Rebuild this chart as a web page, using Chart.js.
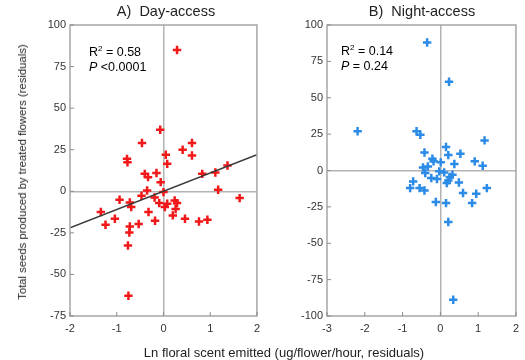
<!DOCTYPE html>
<html>
<head>
<meta charset="utf-8">
<script src="https://cdn.jsdelivr.net/npm/chart.js@4.4.0/dist/chart.umd.min.js"></script>
<style>
  body { margin: 0; background: #fff; font-family: "Liberation Sans", Arial, sans-serif; }
  #wrap { position: relative; width: 525px; height: 360px; overflow: hidden; }
  canvas { position: absolute; top: 0; }
  .txt { position: absolute; color: #222; white-space: nowrap; }
  .ttl { font-size: 14.5px; top: 3px; transform: translateX(-50%); }
  .ann { font-size: 12.5px; line-height: 15px; color: #000; }
  .ann sup { font-size: 8px; vertical-align: 5px; line-height: 0; }
</style>
</head>
<body>
<div id="wrap">
  <canvas id="dayChart" style="left:0px" width="266" height="360"></canvas>
  <canvas id="nightChart" style="left:266px" width="259" height="360"></canvas>

  <div class="txt ttl" style="left:166px">A)&nbsp; Day-access</div>
  <div class="txt ttl" style="left:422px">B)&nbsp; Night-access</div>

  <div class="txt ann" style="left:89px; top:45px">R<sup>2</sup> = 0.58<br><i>P</i> &lt;0.0001</div>
  <div class="txt ann" style="left:341px; top:44px">R<sup>2</sup> = 0.14<br><i>P</i> = 0.24</div>

  <div class="txt" style="font-size:11.3px; left:22px; top:172px; transform: translate(-50%,-50%) rotate(-90deg);">Total seeds produced by treated flowers (residuals)</div>
  <div class="txt" style="font-size:13px; left:284px; top:352px; transform: translate(-50%,-50%);">Ln floral scent emitted (ug/flower/hour, residuals)</div>
</div>

<script>
// Day-access points (scent residual, seed residual)
const dayX = [0.29, -0.07, -0.46, 0.61, 0.05, 0.41, 0.61, -0.78, -0.77, 0.08,
  -0.40, -0.33, -0.15, -0.06, -0.35, 0.00, 0.83, 1.11, 1.37, 1.17,
  1.63, -0.94, -0.47, -0.19, -0.72, -0.69, -0.09, 0.08, 0.24, 0.29,
  0.03, 0.26, -1.34, -0.32, 0.20, -1.24, -1.04, -0.53, -0.18, -0.72,
  -0.73, 0.46, 0.76, 0.94, -0.76, -0.75];
const dayY = [85, 37, 29, 29, 22, 25, 21.5, 19.5, 17.5, 16.5,
  10.5, 8.5, 11, 5.5, 0.5, -0.5, 10.5, 11.3, 15.5, 0.9,
  -4.1, -5.1, -2.7, -3.7, -6.7, -9.5, -7.1, -7.5, -5.5, -7.1,
  -9.5, -10.7, -12.5, -12.5, -14.5, -20.1, -16.5, -19.7, -17.7, -21.2,
  -24.8, -16.5, -18.2, -17.1, -32.6, -62.8];

// Day-access regression line
const dayFitX = [-2, 2];
const dayFitY = [-22, 22];

// Night-access points
const nightX = [-0.35, 0.23, -2.19, -0.63, -0.53, 1.17, 0.15, -0.42, 0.21, 0.53,
  -0.21, -0.18, 0.01, 0.37, 0.91, 1.12, -0.46, -0.33, -0.40, -0.03,
  0.10, -0.24, -0.09, 0.25, 0.32, 0.17, 0.21, -0.72, -0.80, -0.55,
  -0.42, 0.49, 0.60, 0.95, 1.23, -0.12, 0.15, 0.84, 0.21, 0.34];
const nightY = [88, 61, 27, 27, 24.6, 20.7, 16.2, 12.4, 10.6, 11.5,
  8.1, 6.3, 5.6, 4.5, 6.3, 3.3, 2.1, 2.8, -1.7, -0.6,
  -1.3, -5.2, -5.8, -4.5, -2.9, -8.6, -6.8, -7.5, -12.1, -12.1,
  -13.7, -8.2, -15.5, -16, -12.1, -21.7, -22.4, -22.4, -35.4, -88.8];

// axis ranges / tick steps
const dayXRange = [-2, 2];
const dayYRange = [-75, 100];
const nightXRange = [-3, 2];
const nightYRange = [-100, 100];
const yStep = 25;
const xStep = 1;

function toPoints(xs, ys) {
  return xs.map((x, i) => ({ x: x, y: ys[i] }));
}

// frame + inward tick marks
const framePlugin = {
  id: 'frame',
  afterDraw(chart) {
    const { ctx, chartArea: a, scales } = chart;
    ctx.save();
    ctx.strokeStyle = '#a6a6a6';
    ctx.lineWidth = 1.5;
    ctx.strokeRect(a.left, a.top, a.right - a.left, a.bottom - a.top);
    ctx.lineWidth = 1;
    ctx.strokeStyle = '#8c8c8c';
    ctx.beginPath();
    scales.x.ticks.forEach(t => {
      const px = scales.x.getPixelForValue(t.value);
      ctx.moveTo(px, a.bottom);
      ctx.lineTo(px, a.bottom - 4);
    });
    scales.y.ticks.forEach(t => {
      const py = scales.y.getPixelForValue(t.value);
      ctx.moveTo(a.left, py);
      ctx.lineTo(a.left + 4, py);
    });
    ctx.stroke();
    ctx.restore();
  }
};

function zeroGrid(ctx) {
  return ctx.tick && ctx.tick.value === 0 ? '#b3b3b3' : 'rgba(0,0,0,0)';
}

function makeOptions(xr, yr, yWidth, padRight) {
  return {
    responsive: false,
    animation: false,
    layout: { padding: { top: 25, right: padRight, left: 0, bottom: 0 } },
    plugins: { legend: { display: false }, tooltip: { enabled: false } },
    scales: {
      x: {
        type: 'linear',
        min: xr[0], max: xr[1],
        border: { display: false },
        grid: { color: zeroGrid, lineWidth: 1.5, drawTicks: false },
        ticks: { stepSize: xStep, padding: 6, color: '#333',
                 font: { family: 'Liberation Sans', size: 11 } },
        afterFit: s => { s.height = 44; }
      },
      y: {
        type: 'linear',
        min: yr[0], max: yr[1],
        border: { display: false },
        grid: { color: zeroGrid, lineWidth: 1.5, drawTicks: false },
        ticks: { stepSize: yStep, padding: 4, color: '#333',
                 font: { family: 'Liberation Sans', size: 11 } },
        afterFit: s => { s.width = yWidth; }
      }
    }
  };
}

new Chart(document.getElementById('dayChart').getContext('2d'), {
  type: 'scatter',
  data: {
    datasets: [
      {
        type: 'line',
        data: toPoints(dayFitX, dayFitY),
        borderColor: '#3a3a3a',
        borderWidth: 1.5,
        pointRadius: 0,
        fill: false
      },
      {
        data: toPoints(dayX, dayY),
        pointStyle: 'cross',
        pointRadius: 4.2,
        borderWidth: 2.5,
        borderColor: '#f01818',
        backgroundColor: '#f01818'
      }
    ]
  },
  options: makeOptions(dayXRange, dayYRange, 70, 4),
  plugins: [framePlugin]
});

new Chart(document.getElementById('nightChart').getContext('2d'), {
  type: 'scatter',
  data: {
    datasets: [{
      data: toPoints(nightX, nightY),
      pointStyle: 'cross',
      pointRadius: 4.2,
      borderWidth: 2.5,
      borderColor: '#2b8be6',
      backgroundColor: '#2b8be6'
    }]
  },
  options: makeOptions(nightXRange, nightYRange, 61, 6),
  plugins: [framePlugin]
});
</script>
</body>
</html>
